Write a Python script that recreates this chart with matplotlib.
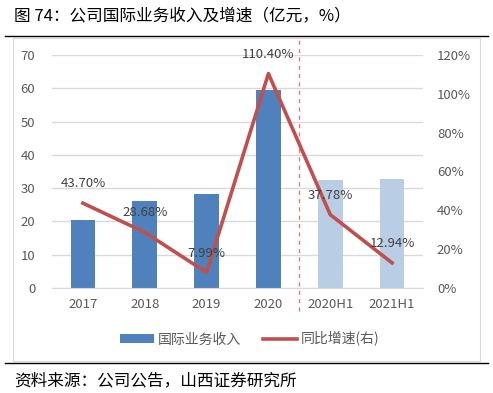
import matplotlib
matplotlib.use("Agg")
import matplotlib.pyplot as plt
from matplotlib.patches import Rectangle, Patch
from matplotlib.lines import Line2D

plt.rcParams['font.family'] = ['Noto Sans CJK SC', 'DejaVu Sans']

categories = ['2017', '2018', '2019', '2020', '2020H1', '2021H1']
revenue = [20.4, 26.2, 28.3, 59.5, 32.4, 32.8]
growth = [43.70, 28.68, 7.99, 110.40, 37.78, 12.94]
growth_labels = ['43.70%', '28.68%', '7.99%', '110.40%', '37.78%', '12.94%']
bar_colors = ['#4F81BD', '#4F81BD', '#4F81BD', '#4F81BD', '#B9CDE5', '#B9CDE5']

W, H = 493, 393
fig = plt.figure(figsize=(W / 100, H / 100), dpi=100)

# frame lines and box
fig.add_artist(Line2D([5 / W, 488 / W], [1 - 36 / H, 1 - 36 / H], color='black', lw=1.0))
fig.add_artist(Line2D([5 / W, 488 / W], [1 - 363 / H, 1 - 363 / H], color='black', lw=1.0))
fig.add_artist(Rectangle((13 / W, 1 - 361 / H), (480 - 13) / W, (361 - 38) / H,
                         fill=False, edgecolor='#D9D9D9', lw=0.8))

fig.text(14 / W, 1 - 16 / H, '图 74：公司国际业务收入及增速（亿元，%）', fontsize=12,
         va='center', ha='left', color='black')
fig.text(14 / W, 1 - 381 / H, '资料来源：公司公告，山西证券研究所', fontsize=12,
         va='center', ha='left', color='black')

ax = fig.add_axes([52 / W, 1 - 288 / H, (423 - 52) / W, (288 - 55) / H])
x = list(range(len(categories)))
ax.bar(x, revenue, width=0.4, color=bar_colors, zorder=2)
ax.set_ylim(0, 70)
ax.set_yticks(range(0, 71, 10))
ax.set_xlim(-0.5, len(categories) - 0.5)
ax.set_xticks(x)
ax.set_xticklabels(categories)
ax.yaxis.grid(True, color='#D9D9D9', lw=1.0, zorder=0)
ax.set_axisbelow(True)
for s in ['top', 'right', 'left']:
    ax.spines[s].set_visible(False)
ax.spines['bottom'].set_color('#D9D9D9')
ax.tick_params(length=0, labelsize=9.5, colors='#595959')
ax.tick_params(axis='x', pad=7)
ax.tick_params(axis='y', pad=12)

ax2 = ax.twinx()
ax2.plot(x, growth, color='#C0504D', lw=2.6, zorder=3)
ax2.set_ylim(0, 120)
ax2.set_yticks(range(0, 121, 20))
ax2.set_yticklabels([f'{v}%' for v in range(0, 121, 20)])
for s in ['top', 'right', 'left', 'bottom']:
    ax2.spines[s].set_visible(False)
ax2.tick_params(length=0, labelsize=9.5, colors='#595959', pad=10)
for xi, g, lab in zip(x, growth, growth_labels):
    ax2.annotate(lab, (xi, g), xytext=(0, 14), textcoords='offset points',
                 ha='center', va='center', fontsize=9.5, color='#404040')

ax2.axvline(3.5, ymin=-0.1, ymax=1.07, color='#E07B7B', lw=1.0, ls=(0, (3, 3)), clip_on=False)

handles = [Patch(facecolor='#4F81BD', edgecolor='none'),
           Line2D([0], [0], color='#C0504D', lw=2.6)]
fig.legend(handles, ['国际业务收入', '同比增速(右)'], loc='center',
           bbox_to_anchor=(250 / W, 1 - 339 / H), ncol=2, frameon=False,
           fontsize=10, labelcolor='#595959', handlelength=2.4, handleheight=0.6,
           columnspacing=1.6, handletextpad=0.3)

fig.savefig('out.png', dpi=100)
